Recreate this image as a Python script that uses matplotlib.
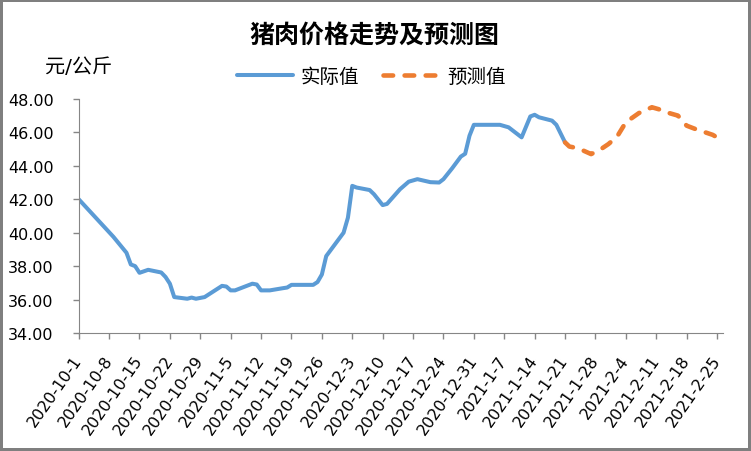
import matplotlib
matplotlib.use("Agg")
from matplotlib import pyplot as plt
import pandas as pd

plt.rcParams['font.family'] = ['DejaVu Sans', 'Noto Sans CJK SC']

actual_dates = ['2020-10-1', '2020-10-9', '2020-10-12', '2020-10-13', '2020-10-14', '2020-10-15',
                '2020-10-17', '2020-10-20', '2020-10-21', '2020-10-22', '2020-10-23', '2020-10-26',
                '2020-10-27', '2020-10-28', '2020-10-30', '2020-11-3', '2020-11-4', '2020-11-5',
                '2020-11-6', '2020-11-10', '2020-11-11', '2020-11-12', '2020-11-14', '2020-11-17',
                '2020-11-18', '2020-11-19', '2020-11-24', '2020-11-25', '2020-11-26', '2020-11-27',
                '2020-11-28', '2020-12-1', '2020-12-2', '2020-12-3', '2020-12-4', '2020-12-7',
                '2020-12-8', '2020-12-10', '2020-12-11', '2020-12-14', '2020-12-16', '2020-12-18',
                '2020-12-21', '2020-12-23', '2020-12-24', '2020-12-26', '2020-12-28', '2020-12-29',
                '2020-12-30', '2020-12-31', '2021-1-6', '2021-1-8', '2021-1-11', '2021-1-13',
                '2021-1-14', '2021-1-15', '2021-1-18', '2021-1-19', '2021-1-21']
actual_values = [42.0, 39.75, 38.8, 38.1, 38.0, 37.6,
                 37.78, 37.62, 37.35, 36.95, 36.15, 36.05,
                 36.12, 36.05, 36.15, 36.82, 36.78, 36.55,
                 36.55, 36.95, 36.9, 36.55, 36.55, 36.68,
                 36.72, 36.88, 36.88, 37.05, 37.5, 38.6,
                 38.95, 40.0, 40.9, 42.8, 42.7, 42.55,
                 42.3, 41.65, 41.72, 42.6, 43.05, 43.2,
                 43.02, 43.0, 43.2, 43.85, 44.55, 44.72,
                 45.8, 46.45, 46.45, 46.3, 45.7, 46.95,
                 47.05, 46.9, 46.7, 46.45, 45.4]

# forecast
pred_dates = ['2021-1-21', '2021-1-22', '2021-1-24', '2021-1-27', '2021-1-29', '2021-1-31',
              '2021-2-2', '2021-2-4', '2021-2-7', '2021-2-10', '2021-2-12', '2021-2-14',
              '2021-2-16', '2021-2-18', '2021-2-20', '2021-2-24', '2021-2-26']
pred_values = [45.4, 45.15, 45.05, 44.7, 44.95, 45.3,
               45.75, 46.6, 47.15, 47.5, 47.35, 47.15,
               47.0, 46.4, 46.2, 45.85, 45.55]

tick_dates = pd.date_range('2020-10-01', '2021-02-25', freq='7D')
y_ticks = [34, 36, 38, 40, 42, 44, 46, 48]

fig = plt.figure(figsize=(7.51, 4.52), dpi=100)
fig.patch.set_edgecolor('#7f7f7f')
fig.patch.set_linewidth(3)
ax = fig.add_axes([0.1048, 0.261, 0.8579, 0.518])

ax.plot(pd.to_datetime(actual_dates), actual_values, color='#5B9BD5', lw=2.9,
        solid_joinstyle='round', solid_capstyle='round', label='实际值')
ax.plot(pd.to_datetime(pred_dates), pred_values, color='#ED7D31', lw=3.3,
        dashes=(2.1, 2.5), dash_capstyle='round', label='预测值')

ax.set_ylim(34, 48)
ax.set_yticks(y_ticks)
ax.set_yticklabels([f'{v:.2f}' for v in y_ticks])
ax.set_xlim(pd.Timestamp('2020-10-01'), pd.Timestamp('2021-02-26 09:00'))
ax.set_xticks(tick_dates)
ax.set_xticklabels([f'{d.year}-{d.month}-{d.day}' for d in tick_dates],
                   rotation=55, ha='right', va='center', rotation_mode='anchor')

for side in ['top', 'right']:
    ax.spines[side].set_visible(False)
for side in ['left', 'bottom']:
    ax.spines[side].set_color('#868686')
ax.tick_params(axis='y', length=4.5, width=1, color='#868686', pad=13.5, labelsize=11.5)
ax.tick_params(axis='x', length=4, width=1, color='#868686', pad=13, labelsize=11.5)

fig.text(0.499, 0.922, '猪肉价格走势及预测图', ha='center', va='center',
         fontsize=18, fontweight='bold')
fig.text(0.105, 0.85, '元/公斤', ha='center', va='center', fontsize=14.5)
fig.legend(loc='center', bbox_to_anchor=(0.494, 0.828), ncol=2, frameon=False,
           fontsize=14, handlelength=2.9, columnspacing=1.2, handletextpad=0.4)

fig.savefig('out.png', dpi=100, edgecolor=fig.get_edgecolor())
